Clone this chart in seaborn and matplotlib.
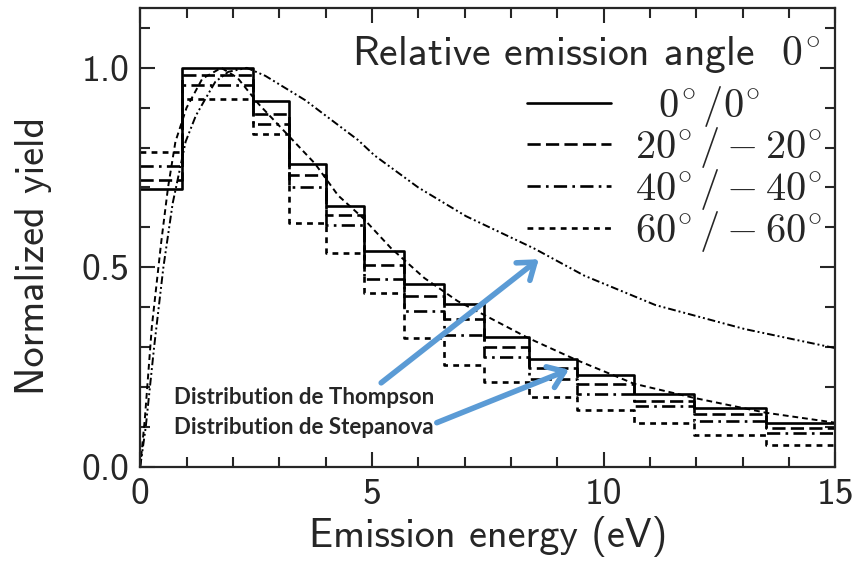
import numpy as np
import matplotlib.pyplot as plt
import seaborn as sns
from matplotlib.ticker import MultipleLocator

# measured spectra: bin edges (eV) and normalized yield per bin
edges = [0, 0.9, 2.43, 3.2, 4.0, 4.82, 5.7, 6.56, 7.41, 8.38, 9.42, 10.65, 11.96, 13.5, 15.0]
yield_0 = [0.695, 1.0, 0.917, 0.759, 0.653, 0.54, 0.458, 0.407, 0.326, 0.271, 0.229, 0.182, 0.148, 0.110]
yield_20 = [0.72, 0.983, 0.885, 0.732, 0.632, 0.506, 0.428, 0.369, 0.30, 0.246, 0.208, 0.165, 0.131, 0.097]
yield_40 = [0.755, 0.956, 0.86, 0.70, 0.605, 0.47, 0.39, 0.33, 0.275, 0.22, 0.182, 0.153, 0.114, 0.085]
yield_60 = [0.79, 0.922, 0.835, 0.611, 0.536, 0.436, 0.322, 0.254, 0.212, 0.174, 0.142, 0.11, 0.08, 0.055]
angle_labels = [r'$\ \ 0^{\!\circ}/0^{\!\circ}$', r'$20^{\!\circ}/-20^{\!\circ}$',
                r'$40^{\!\circ}/-40^{\!\circ}$', r'$60^{\!\circ}/-60^{\!\circ}$']

# model curves
thompson_x = [0, 0.12, 0.3, 0.5, 0.7, 0.98, 1.2, 1.41, 1.62, 1.9, 2.3, 2.7, 3.56, 4.7, 5.06,
              6.0, 7.03, 8.5, 9.58, 11.12, 13.04, 15.0]
thompson_y = [0, 0.1, 0.3, 0.5, 0.66, 0.815, 0.88, 0.923, 0.965, 0.99, 1.0, 0.98, 0.919, 0.819, 0.78,
              0.7, 0.628, 0.547, 0.479, 0.405, 0.345, 0.297]
stepanova_x = [0, 0.1, 0.25, 0.45, 0.6, 0.76, 1.0, 1.34, 1.75, 2.1, 2.55, 3.2, 3.77, 4.27, 4.81,
               5.41, 6.13, 6.85, 7.41, 8.38, 9.42, 10.65, 11.96, 13.5, 15.0]
stepanova_y = [0, 0.12, 0.35, 0.56, 0.7, 0.815, 0.9, 0.973, 1.0, 0.975, 0.91, 0.83, 0.76, 0.68, 0.623,
               0.548, 0.473, 0.415, 0.381, 0.322, 0.267, 0.208, 0.172, 0.135, 0.11]

sns.set_style("ticks")
plt.rcParams['font.family'] = ['cmss10', 'DejaVu Sans']
plt.rcParams['mathtext.fontset'] = 'cm'
plt.rcParams['axes.unicode_minus'] = False

fig = plt.figure(figsize=(8.55, 5.76), dpi=100)
ax = fig.add_axes([0.164, 0.19, 0.813, 0.796])

centers = [(a + b) / 2 for a, b in zip(edges[:-1], edges[1:])]
styles = ['-', (0, (5, 2)), (0, (5, 2, 1, 2)), (0, (2.2, 2))]
for vals, ls in zip([yield_0, yield_20, yield_40, yield_60], styles):
    sns.histplot(x=centers, weights=vals, bins=edges, element='step', fill=False,
                 color='black', linewidth=1.9, linestyle=ls, ax=ax)
hist_lines = list(ax.lines)

sns.lineplot(x=thompson_x, y=thompson_y, color='black', linewidth=1.4,
             linestyle=(0, (4, 1.5, 1, 1.5, 1, 1.5)), ax=ax)
sns.lineplot(x=stepanova_x, y=stepanova_y, color='black', linewidth=1.4,
             linestyle=(0, (3, 2)), ax=ax)

ax.set_xlim(0, 15)
ax.set_ylim(0, 1.15)
ax.xaxis.set_major_locator(MultipleLocator(5))
ax.xaxis.set_minor_locator(MultipleLocator(1))
ax.yaxis.set_major_locator(MultipleLocator(0.5))
ax.yaxis.set_minor_locator(MultipleLocator(0.1))
ax.tick_params(which='both', direction='in', top=True, right=True, width=1.5, labelsize=27, pad=8)
ax.tick_params(which='major', length=11)
ax.tick_params(which='minor', length=7)
for s in ax.spines.values():
    s.set_linewidth(1.6)

ax.set_xlabel('Emission energy (eV)', fontsize=29, labelpad=4)
ax.set_ylabel('Normalized yield', fontsize=29)
ax.yaxis.set_label_coords(-0.127, 0.46)

# legend title drawn separately so its gap to the entries can be matched
ax.text(0.978, 0.873, r'Relative emission angle  $0^{\!\circ}$', fontsize=30,
        ha='right', va='baseline', transform=ax.transAxes)
ax.legend(hist_lines, angle_labels, loc='upper right', bbox_to_anchor=(0.982, 0.835),
          frameon=False, fontsize=29, handlelength=2.1, handletextpad=0.6,
          labelspacing=-0.08, borderpad=0, borderaxespad=0)

blue = '#5b9bd5'
txt = dict(fontsize=16, fontweight='bold', family=['Lato', 'DejaVu Sans'], va='center')
ax.text(0.72, 0.173, 'Distribution de Thompson', **txt)
ax.text(0.72, 0.098, 'Distribution de Stepanova', **txt)
arrow = dict(arrowstyle='->, head_length=0.55, head_width=0.4', color=blue, lw=4,
             mutation_scale=20, shrinkA=0, shrinkB=0)
ax.annotate('', xy=(8.6, 0.52), xytext=(5.2, 0.21), arrowprops=arrow)
ax.annotate('', xy=(9.25, 0.243), xytext=(6.4, 0.11), arrowprops=arrow)

fig.savefig('out.png', dpi=100)
